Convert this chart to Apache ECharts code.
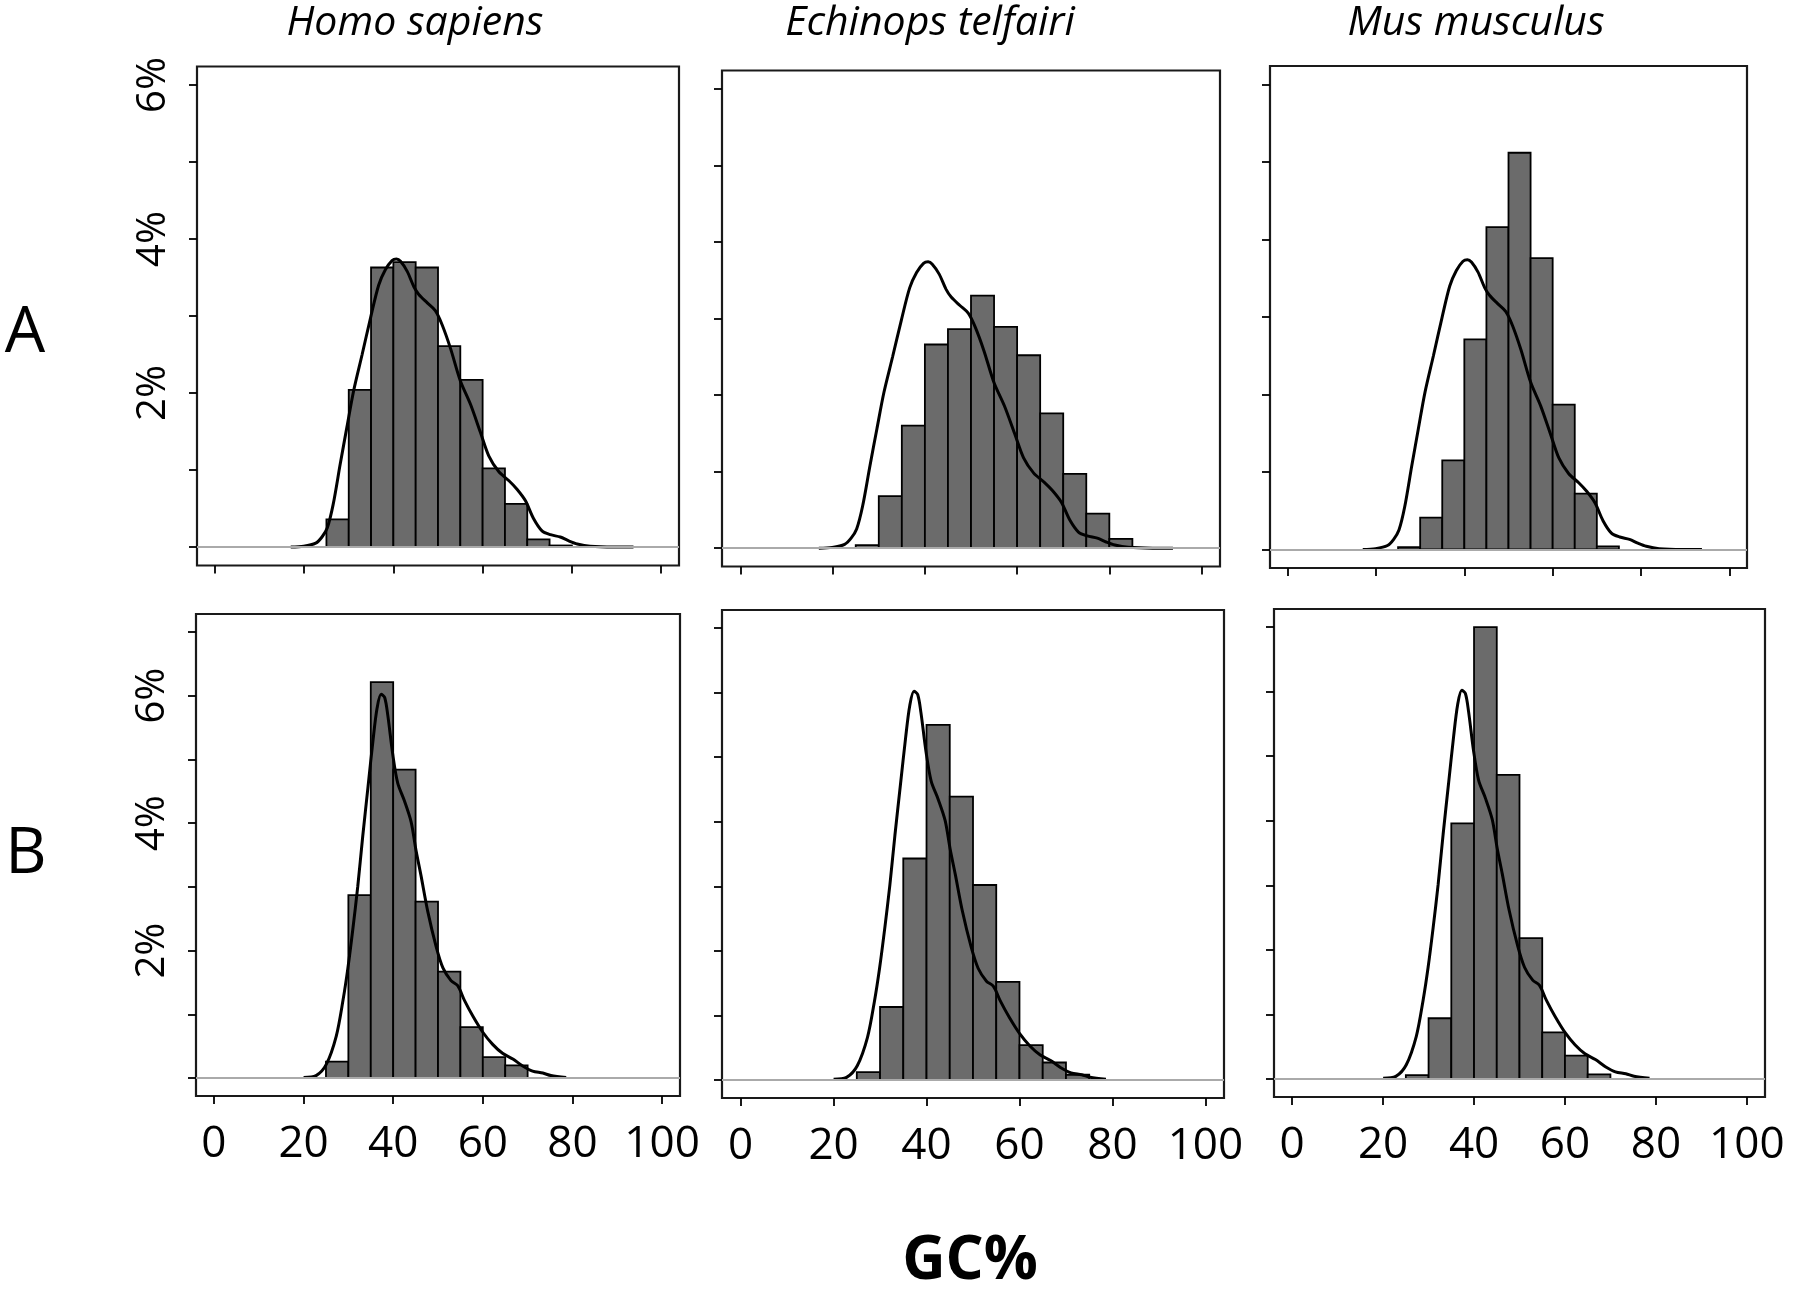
<!DOCTYPE html>
<html>
<head>
<meta charset="utf-8">
<title>GC% distribution</title>
<script src="https://cdn.jsdelivr.net/npm/echarts@6/dist/echarts.min.js"></script>
<style>
html, body { margin: 0; padding: 0; background: #fff; }
#chart { width: 1800px; height: 1294px; }
</style>
</head>
<body>
<div id="chart"></div>
<script>
// GC% histograms, Homo sapiens density curve on every panel of a row
var species = ['Homo sapiens', 'Echinops telfairi', 'Mus musculus'];
var rowNames = ['A', 'B'];
var binStart = [20, 25, 30, 35, 40, 45, 50, 55, 60, 65, 70, 75, 80];
var binWidth = 5;

// row A (%)
var homoA     = [0, 0.36, 2.04, 3.63, 3.70, 3.63, 2.61, 2.17, 1.02, 0.56, 0.10, 0.02, 0];
var echinopsA = [0, 0.04, 0.68, 1.60, 2.66, 2.86, 3.30, 2.89, 2.52, 1.76, 0.97, 0.45, 0.12];
var musA      = [0, 0.03, 0.41, 1.15, 2.71, 4.16, 5.12, 3.76, 1.87, 0.72, 0.04, 0, 0];
// row B (%)
var homoB     = [0, 0.26, 2.87, 6.21, 4.84, 2.77, 1.67, 0.80, 0.33, 0.20, 0, 0, 0];
var echinopsB = [0, 0.12, 1.13, 3.43, 5.50, 4.39, 3.02, 1.52, 0.54, 0.27, 0.08, 0, 0];
var musB      = [0, 0.06, 0.94, 3.96, 7.00, 4.71, 2.18, 0.72, 0.36, 0.07, 0, 0, 0];

// density curves
var densAX = [17.0, 19.9, 22.6, 24.0, 25.2, 26.5, 28.1, 29.6, 31.1, 33.0, 34.9, 36.7, 38.2, 39.7, 40.7, 41.6, 43.1, 44.6, 45.7, 47.6, 49.4, 50.9, 52.8, 55.0, 57.3, 59.5, 61.4, 63.6, 65.9, 67.7, 69.6, 71.4, 73.3, 75.2, 77.4, 79.3, 81.2, 84.1, 89.4, 93.8];
var densAY = [0, 0.01, 0.05, 0.13, 0.25, 0.55, 1.08, 1.56, 2.03, 2.50, 2.98, 3.40, 3.60, 3.72, 3.74, 3.71, 3.58, 3.38, 3.28, 3.17, 3.07, 2.89, 2.58, 2.16, 1.85, 1.49, 1.18, 0.98, 0.86, 0.75, 0.60, 0.37, 0.21, 0.16, 0.13, 0.08, 0.04, 0.01, 0, 0];
var densBX = [20.0, 22.8, 25.1, 27.3, 28.8, 29.9, 31.0, 32.1, 33.2, 34.4, 35.5, 36.4, 37.3, 38.1, 38.8, 39.9, 41.0, 42.5, 44.0, 45.1, 46.2, 47.7, 49.6, 51.1, 52.9, 54.4, 55.9, 57.8, 60.0, 62.2, 64.4, 66.7, 68.9, 71.1, 73.4, 75.2, 78.6];
var densBY = [0.01, 0.04, 0.22, 0.66, 1.22, 1.73, 2.34, 3.01, 3.79, 4.58, 5.30, 5.80, 6.02, 5.97, 5.69, 5.08, 4.63, 4.35, 4.02, 3.57, 3.18, 2.62, 2.06, 1.73, 1.53, 1.45, 1.22, 0.97, 0.72, 0.53, 0.39, 0.30, 0.19, 0.11, 0.08, 0.04, 0.01];

var xTicks = [0, 20, 40, 60, 80, 100];
var yTicksA = [0, 1, 2, 3, 4, 5, 6];
var yTicksB = [0, 1, 2, 3, 4, 5, 6, 7];
var yLabels = [2, 4, 6];

var histA = [homoA, echinopsA, musA];
var histB = [homoB, echinopsB, musB];

// panel boxes
var boxes = [
	{left: 197, top: 66.5, width: 482, height: 499},
	{left: 722, top: 70.5, width: 498, height: 496},
	{left: 1270, top: 66, width: 477, height: 502},
	{left: 196, top: 614, width: 484, height: 482},
	{left: 722, top: 610, width: 502, height: 488},
	{left: 1274, top: 609, width: 491, height: 488}
];

var font = '"Open Sans", "Liberation Sans", sans-serif';

function pairs(xs, ys) {
	var out = [];
	for (var i = 0; i < xs.length; i++) out.push([xs[i], ys[i]]);
	return out;
}

function binData(vals) {
	var out = [];
	for (var i = 0; i < vals.length; i++) {
		if (vals[i] > 0) out.push([binStart[i], binStart[i] + binWidth, vals[i]]);
	}
	return out;
}

function renderBar(params, api) {
	var p0 = api.coord([api.value(0), api.value(2)]);
	var p1 = api.coord([api.value(1), 0]);
	return {
		type: 'rect',
		shape: {x: p0[0], y: p0[1], width: p1[0] - p0[0], height: p1[1] - p0[1]},
		style: {fill: '#6b6b6b', stroke: '#000', lineWidth: 1.8}
	};
}

var grids = [], xAxes = [], yAxes = [], series = [];

for (var r = 0; r < 2; r++) {
	for (var c = 0; c < 3; c++) {
		var k = r * 3 + c;
		var b = boxes[k];
		grids.push({
			left: b.left, top: b.top, width: b.width, height: b.height,
			show: true, borderColor: '#1a1a1a', borderWidth: 2.2,
			outerBoundsMode: 'none', containLabel: false
		});
		xAxes.push({
			gridIndex: k, type: 'value', min: -4, max: 104,
			axisLine: {show: false, onZero: false},
			splitLine: {show: false},
			axisTick: {show: true, customValues: xTicks, length: 8, lineStyle: {color: '#000', width: 1.8}},
			axisLabel: {
				show: r === 1, customValues: xTicks, margin: 26,
				fontSize: 44, color: '#000', fontFamily: font
			}
		});
		yAxes.push({
			gridIndex: k, type: 'value',
			min: r === 0 ? -0.24 : -0.28,
			max: r === 0 ? 6.24 : 7.28,
			axisLine: {show: false, onZero: false},
			splitLine: {show: false},
			axisTick: {show: true, customValues: r === 0 ? yTicksA : yTicksB, length: 8, lineStyle: {color: '#000', width: 1.8}},
			axisLabel: {
				show: c === 0, customValues: yLabels, rotate: 90, margin: 23,
				fontSize: 40, color: '#000', fontFamily: font,
				formatter: function (v) { return v + '%'; }
			}
		});
		series.push({
			type: 'custom', xAxisIndex: k, yAxisIndex: k,
			renderItem: renderBar,
			encode: {x: [0, 1], y: 2},
			data: binData(r === 0 ? histA[c] : histB[c]),
			z: 2,
			markLine: {
				silent: true, symbol: 'none', label: {show: false},
				lineStyle: {color: '#aaa', width: 1.8, type: 'solid'},
				data: [{yAxis: 0}]
			}
		});
		series.push({
			type: 'line', xAxisIndex: k, yAxisIndex: k,
			data: r === 0 ? pairs(densAX, densAY) : pairs(densBX, densBY),
			smooth: 0.3, showSymbol: false,
			lineStyle: {color: '#000', width: 3},
			z: 3
		});
	}
}

var titleX = [415, 930, 1476];
var texts = [];
for (var i = 0; i < species.length; i++) {
	texts.push({
		type: 'text', x: titleX[i], y: 23,
		style: {text: species[i], font: 'italic 41px ' + font, fill: '#000', align: 'center', verticalAlign: 'middle'}
	});
}
texts.push({type: 'text', x: 25, y: 334, style: {text: rowNames[0], font: '64px ' + font, fill: '#000', align: 'center', verticalAlign: 'middle'}});
texts.push({type: 'text', x: 26, y: 855, style: {text: rowNames[1], font: '64px ' + font, fill: '#000', align: 'center', verticalAlign: 'middle'}});
texts.push({type: 'text', x: 970, y: 1262, style: {text: 'GC%', font: 'bold 60px ' + font, fill: '#000', align: 'center', verticalAlign: 'middle'}});

var myChart = echarts.init(document.getElementById('chart'), null, {renderer: 'canvas'});
myChart.setOption({
	animation: false,
	backgroundColor: '#fff',
	grid: grids,
	xAxis: xAxes,
	yAxis: yAxes,
	series: series,
	graphic: texts
});
</script>
</body>
</html>
